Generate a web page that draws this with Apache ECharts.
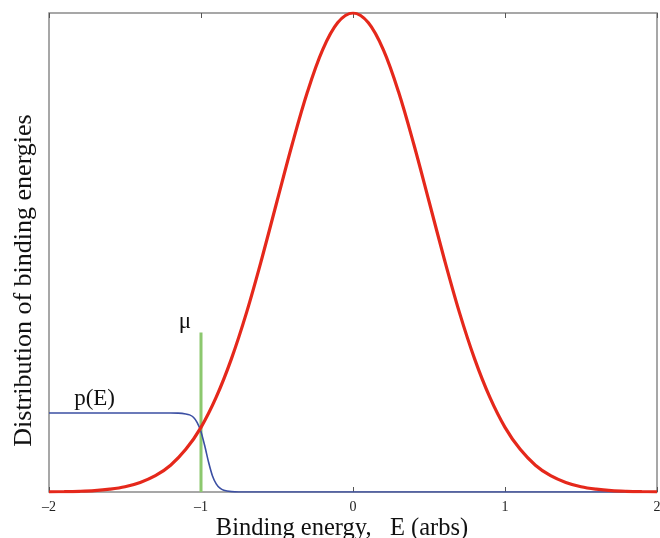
<!DOCTYPE html>
<html>
<head>
<meta charset="utf-8">
<script src="https://cdn.jsdelivr.net/npm/echarts@6/dist/echarts.min.js"></script>
<style>
  html, body { margin: 0; padding: 0; background: #fff; }
  #chart { width: 660px; height: 538px; }
</style>
</head>
<body>
<div id="chart"></div>
<script>
// distribution of binding energies (red)
const gaussE = [-2.0, -1.9, -1.8, -1.7, -1.6, -1.5, -1.4, -1.3, -1.2, -1.1, -1.0,
  -0.9, -0.8, -0.7, -0.6, -0.5, -0.4, -0.3, -0.2, -0.1, 0.0,
  0.1, 0.2, 0.3, 0.4, 0.5, 0.6, 0.7, 0.8, 0.9, 1.0,
  1.1, 1.2, 1.3, 1.4, 1.5, 1.6, 1.7, 1.8, 1.9, 2.0];
const gaussVal = [0.0003, 0.0007, 0.0015, 0.003, 0.006, 0.011, 0.020, 0.034, 0.056, 0.089, 0.135,
  0.198, 0.278, 0.375, 0.487, 0.607, 0.726, 0.835, 0.923, 0.980, 1.000,
  0.980, 0.923, 0.835, 0.726, 0.607, 0.487, 0.375, 0.278, 0.198, 0.135,
  0.089, 0.056, 0.034, 0.020, 0.011, 0.006, 0.003, 0.0015, 0.0007, 0.0003];

// occupation p(E) (blue)
const occE = [-2.0, -1.2, -1.15, -1.1, -1.075, -1.05, -1.025, -1.0, -0.975, -0.95,
  -0.925, -0.9, -0.875, -0.85, -0.8, -0.75, 2.0];
const occVal = [0.165, 0.165, 0.1647, 0.163, 0.161, 0.156, 0.145, 0.126, 0.096, 0.062,
  0.034, 0.017, 0.0079, 0.0035, 0.0007, 0, 0];

// chemical potential marker (green)
const muE = [-1, -1];
const muVal = [0, 0.333];

const xTicks = [-2, -1, 0, 1, 2];

const serif = "'Liberation Serif', 'Times New Roman', serif";

function pairs(xs, ys) {
  return xs.map((x, i) => [x, ys[i]]);
}

const myChart = echarts.init(document.getElementById("chart"));

const tickAxis = {
  type: "value",
  min: xTicks[0],
  max: xTicks[xTicks.length - 1],
  interval: 1,
  axisLine: { show: false },
  axisTick: { show: true, inside: true, length: 5, lineStyle: { color: "#555", width: 1 } },
  splitLine: { show: false }
};

const option = {
  animation: false,
  grid: {
    left: 49, right: 3, top: 13, bottom: 46,
    outerBoundsMode: "none",
    show: true, borderColor: "#8a8a8a", borderWidth: 1.5, backgroundColor: "#fff"
  },
  xAxis: [
    Object.assign({}, tickAxis, {
      position: "bottom",
      name: "Binding energy,   E (arbs)",
      nameLocation: "middle",
      nameGap: 24,
      nameMoveOverlap: false,
      nameTextStyle: { fontFamily: serif, fontSize: 24.5, color: "#111", padding: [0, 22, 0, 0] },
      axisLabel: {
        margin: 8,
        fontFamily: serif, fontSize: 14, color: "#222",
        formatter: v => String(v).replace("-", "\u2013")
      }
    }),
    Object.assign({}, tickAxis, {
      position: "top",
      axisLabel: { show: false }
    })
  ],
  yAxis: {
    type: "value",
    min: 0,
    max: 1,
    name: "Distribution of binding energies",
    nameLocation: "middle",
    nameGap: 12,
    nameTextStyle: { fontFamily: serif, fontSize: 26, color: "#111", padding: [0, 56, 0, 0] },
    axisLine: { show: false },
    axisTick: { show: false },
    axisLabel: { show: false },
    splitLine: { show: false }
  },
  series: [
    {
      type: "line",
      data: pairs(occE, occVal),
      smooth: 0.2,
      showSymbol: false,
      lineStyle: { color: "#3b4fa3", width: 1.6 },
      markPoint: {
        symbol: "circle", symbolSize: 0,
        label: {
          show: true, formatter: "p(E)", position: "top", distance: 3,
          fontFamily: serif, fontSize: 23, color: "#111"
        },
        data: [{ coord: [-1.70, 0.165] }]
      },
      z: 3
    },
    {
      type: "line",
      data: pairs(muE, muVal),
      showSymbol: false,
      lineStyle: { color: "#8cc86e", width: 3 },
      markPoint: {
        symbol: "circle", symbolSize: 0,
        label: {
          show: true, formatter: "\u03bc", position: "left", distance: 10,
          fontFamily: serif, fontSize: 23, color: "#111"
        },
        data: [{ coord: [-1, 0.355] }]
      },
      z: 2
    },
    {
      type: "line",
      data: pairs(gaussE, gaussVal),
      smooth: 0.35,
      showSymbol: false,
      lineStyle: { color: "#e5281b", width: 3.2 },
      z: 4
    }
  ]
};

myChart.setOption(option);
</script>
</body>
</html>
